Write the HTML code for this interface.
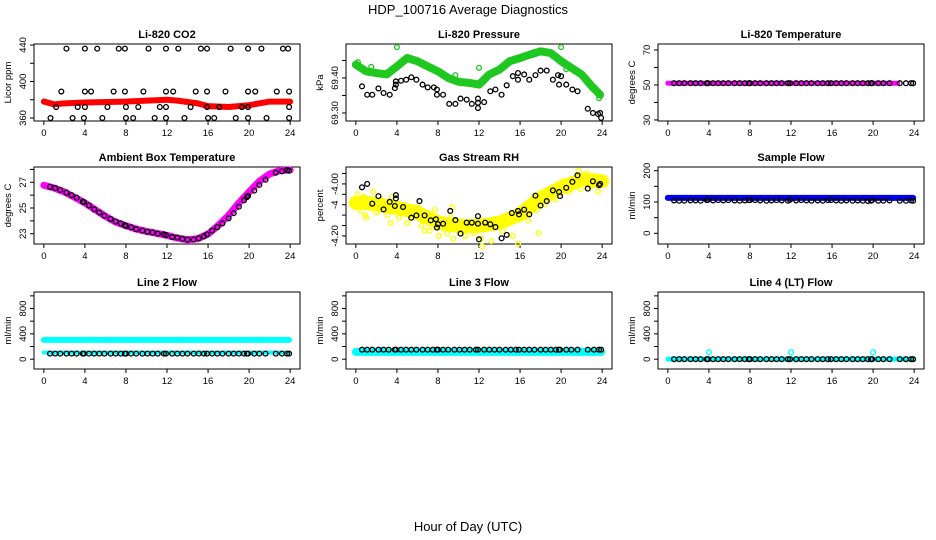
<!DOCTYPE html>
<html><head><meta charset="utf-8"><style>
body{margin:0;background:#fff;}
svg{display:block;font-family:"Liberation Sans",Arial,sans-serif;}
</style></head><body>
<svg id="chart" width="936" height="540" viewBox="0 0 936 540">
<text x="468" y="14" text-anchor="middle" font-size="13">HDP_100716  Average Diagnostics</text>
<text x="468" y="531" text-anchor="middle" font-size="13">Hour of Day (UTC)</text>
</svg>
<script>
// ---- shared data ----
const xTicks = [0,4,8,12,16,20,24];
const blackHours = [0.6,1.1,1.6,2.2,2.7,3.2,3.8,3.9,4.4,4.9,5.4,5.9,6.5,7.0,7.5,7.9,8.0,8.5,9.0,9.6,10.1,10.6,11.1,11.7,11.9,12.5,13.0,13.5,14.0,14.6,15.1,15.6,15.9,16.4,16.9,17.4,18.0,18.5,19.0,19.5,19.8,19.9,20.5,21.0,21.6,22.6,23.2,23.7,23.9];

// CO2
const co2BandHours = [0,1,2,4,8,12,13,15,16,18,19,20,22,24];
const co2BandValues = [378,375,376,377,378,380,379,376,373,372,373,374,378,378];
const co2Hours = [0.65,1.2,1.7,2.2,2.8,3.3,4.0,4.0,3.9,4.0,4.6,5.2,5.7,6.2,6.8,7.3,7.9,7.9,8.0,8.0,8.7,9.2,9.7,10.2,10.8,11.3,11.9,11.9,11.9,11.9,12.6,13.1,13.7,14.3,14.8,15.3,15.9,15.9,15.9,16.0,16.6,17.1,17.7,18.2,18.7,19.3,19.9,19.9,19.9,19.9,20.6,21.2,21.7,22.7,23.3,23.8,23.9,23.9,23.9];
const co2Values = [360,372,389,436,360,372,389,436,360,372,389,436,360,372,389,436,436,389,372,360,360,372,389,436,360,372,372,389,436,360,389,436,360,372,389,436,436,389,372,360,360,372,389,436,360,372,372,389,436,360,389,436,360,389,436,436,389,372,360];
const co2Ticks = [360,380,400,420,440];
const co2Labels = ["360","","400","","440"];

// Pressure
const presBandHours = [0,1,2,3,4,5,6,7,8,9,10,11,12,13,14,15,16,17,18,19,20,21,22,23,23.8];
const presBandValues = [69.438,69.419,69.414,69.41,69.433,69.457,69.448,69.433,69.419,69.40,69.389,69.386,69.381,69.41,69.424,69.448,69.457,69.467,69.476,69.471,69.448,69.429,69.41,69.376,69.352];
const presGreenHours = [4.0,20.0,12.0,1.5,9.7,19.9,20.5,23.7,0.2];
const presGreenValues = [69.488,69.488,69.429,69.432,69.408,69.449,69.425,69.342,69.445];
const presHours = [0.6,1.1,1.6,2.2,2.7,3.3,3.8,3.9,3.9,4.4,4.9,5.4,5.9,6.5,7.0,7.6,7.9,7.9,8.5,9.1,9.7,10.2,10.8,11.3,11.9,11.9,11.9,12.5,13.1,13.6,14.2,14.7,15.3,15.8,15.8,16.4,16.9,17.5,18.0,18.6,19.2,19.7,19.8,20.0,20.5,21.1,21.6,22.6,23.1,23.6,23.8,23.9];
const presValues = [69.376,69.352,69.352,69.370,69.357,69.352,69.371,69.381,69.390,69.392,69.395,69.402,69.395,69.381,69.373,69.373,69.367,69.352,69.352,69.326,69.326,69.341,69.338,69.326,69.341,69.329,69.314,69.331,69.362,69.367,69.352,69.379,69.405,69.414,69.395,69.410,69.395,69.408,69.421,69.421,69.395,69.408,69.381,69.405,69.381,69.367,69.362,69.312,69.30,69.297,69.30,69.286];
const presTicks = [69.30,69.35,69.40,69.45];
const presLabels = ["69.30","","69.40",""];

// Li-820 temperature
const tempBandHours = [0,22.4];
const tempBandValues = [51,51];
const tempBlack = [51,51,51,51,51,51,51,51,51,51,51,51,51,51,51,51,51,51,51,51,51,51,51,51,51,51,51,51,51,51,51,51,51,51,51,51,51,51,51,51,51,51,51,51,51,51,51,51,51];
const tempTicks = [30,40,50,60,70];
const tempLabels = ["30","","50","","70"];

// Ambient box temperature
const ambBandHours = [0,1,2,3,4,5,6,7,8,9,10,11,12,13,14,15,16,17,18,19,20,21,22,23,24];
const ambBandValues = [26.77,26.56,26.25,25.83,25.39,24.87,24.35,23.91,23.62,23.36,23.18,23.03,22.87,22.66,22.53,22.61,22.97,23.65,24.43,25.39,26.25,27.08,27.65,27.91,27.96];
const ambBlack = [26.65,26.55,26.4,26.2,26.0,25.8,25.5,25.45,25.2,24.9,24.65,24.4,24.15,23.95,23.8,23.65,23.6,23.5,23.35,23.25,23.15,23.1,23.0,22.95,22.9,22.75,22.7,22.6,22.55,22.55,22.65,22.8,22.95,23.25,23.5,23.8,24.2,24.6,25.1,25.6,25.85,25.95,26.35,26.8,27.2,27.75,27.85,27.95,27.9];
const ambTicks = [23,24,25,26,27,28];
const ambLabels = ["23","","25","","27",""];

// Gas stream RH
const rhBandHours = [0,1,2,4,6,8,10,12,14,16,18,20,22,24];
const rhBandValues = [-4.073,-4.073,-4.079,-4.092,-4.111,-4.149,-4.162,-4.162,-4.149,-4.117,-4.054,-4.015,-3.983,-3.99];
const rhYellowHours = [0.2,0.4,0.8,1.0,1.3,1.7,2.0,2.4,2.9,3.1,3.5,4.2,4.7,5.0,5.6,6.0,6.4,6.9,7.2,7.7,8.1,8.4,8.9,9.3,9.5,9.8,10.3,10.7,11.0,11.5,12.2,12.8,13.2,13.8,14.3,14.9,15.3,15.5,16.2,16.8,17.2,17.6,18.1,18.4,18.9,19.4,19.7,20.2,20.8,21.3,21.9,22.2,22.5,22.9,23.3,23.6,0.9,3.4,6.7,9.4,12.3,15.8,17.8,21.7];
const rhYellowValues = [-4.04,-4.10,-4.05,-4.13,-4.09,-4.03,-4.11,-4.06,-4.10,-4.12,-4.05,-4.13,-4.08,-4.15,-4.12,-4.09,-4.16,-4.12,-4.18,-4.10,-4.20,-4.15,-4.19,-4.13,-4.21,-4.16,-4.18,-4.20,-4.15,-4.19,-4.21,-4.17,-4.22,-4.15,-4.18,-4.14,-4.20,-4.12,-4.10,-4.14,-4.06,-4.10,-4.05,-4.08,-4.03,-4.06,-4.00,-3.99,-4.03,-3.98,-4.02,-3.97,-3.96,-4.01,-3.97,-4.03,-4.12,-4.15,-4.18,-4.09,-4.24,-4.23,-4.19,-3.95];
const rhHours = [0.6,1.1,1.6,2.2,2.7,3.3,3.8,3.9,3.9,4.6,5.4,5.9,6.2,6.7,7.3,7.8,7.9,8.0,8.5,9.2,9.7,10.2,10.8,11.3,11.9,11.9,12.0,12.6,13.1,13.6,14.2,14.7,15.2,15.8,15.9,16.4,16.9,17.5,18.0,18.6,19.2,19.8,19.9,20.5,21.1,21.6,22.6,23.1,23.7,23.8];
const rhValues = [-4.013,-4.0,-4.076,-4.047,-4.098,-4.069,-4.085,-4.056,-4.043,-4.089,-4.13,-4.121,-4.066,-4.121,-4.14,-4.136,-4.168,-4.155,-4.153,-4.104,-4.139,-4.191,-4.149,-4.149,-4.124,-4.153,-4.213,-4.149,-4.155,-4.166,-4.209,-4.196,-4.112,-4.104,-4.117,-4.099,-4.117,-4.045,-4.083,-4.066,-4.025,-4.031,-4.047,-4.015,-3.992,-3.967,-4.018,-3.99,-4.005,-4.0];
const rhTicks = [-3.96,-4.00,-4.04,-4.08,-4.12,-4.16,-4.20];
const rhLabels = ["","-4.00","","-4","","","-4.20"];

// Sample flow
const sfBandHours = [0,23.9];
const sfBandValues = [113,113];
const sfBlack = [105,104,104,105,105,104,106,107,105,106,105,106,105,104,105,106,106,106,105,104,105,106,105,104,107,105,106,105,104,105,104,106,106,105,104,105,104,105,104,103,104,106,104,104,105,104,104,105,104];
const sfTicks = [0,50,100,150,200];
const sfLabels = ["0","","100","","200"];

// Line flows
const flowTicks = [0,200,400,600,800,1000];
const flowLabels = ["0","","400","","800",""];
const l2BandHours = [0,23.9];
const l2BandHigh = [305,305];
const l2BandLow = [105,105];
const l2Black = [88,88,88,88,88,88,88,88,88,88,88,88,88,88,88,88,88,88,88,88,88,88,88,88,88,88,88,88,88,88,88,88,88,88,88,88,88,88,88,88,88,88,88,88,88,88,88,88,88];
const l3BandHours = [0,23.9];
const l3BandValues = [115,115];
const l3Black = [150,150,150,150,150,150,150,150,150,150,150,150,150,150,150,150,150,150,150,150,150,150,150,150,150,150,150,150,150,150,150,150,150,150,150,150,150,150,150,150,150,150,150,150,150,150,150,150,150];
const l4BandHours = [0,23.9];
const l4BandValues = [0,0];
const l4CyanHours = [4.0,12.0,20.0];
const l4CyanValues = [110,110,110];
const l4Black = [0,0,0,0,0,0,0,0,0,0,0,0,0,0,0,0,0,0,0,0,0,0,0,0,0,0,0,0,0,0,0,0,0,0,0,0,0,0,0,0,0,0,0,0,0,0,0,0,0];

const NS = "http://www.w3.org/2000/svg";
const svg = document.getElementById("chart");
function mk(tag, attrs, parent){ const e=document.createElementNS(NS,tag); for(const k in attrs) e.setAttribute(k,attrs[k]); (parent||svg).appendChild(e); return e; }

const colLeft = [34,346,658];
const rowTop = [44,167,292];
const W = 266, H = 77;

function panel(col,row,title,ylab,ymin,ymax,ticks,labels,key){
  const L=colLeft[col], T=rowTop[row];
  const g = mk("g",{});
  
  
  const xs = h => L + (h+0.96)/25.92*W;
  const ys = v => T + H - (v-ymin)/(ymax-ymin)*H;
  const box = mk("rect",{x:L,y:T,width:W,height:H,fill:"none",stroke:"#000","stroke-width":1},g);
  
  
  const t = mk("text",{x:L+W/2,y:T-6,"text-anchor":"middle","font-size":11,"font-weight":"bold"},g);
  t.textContent = title;
  
  
  xTicks.forEach(h=>{
    const x=xs(h);
    mk("line",{x1:x,x2:x,y1:T+H,y2:T+H+4,stroke:"#000"},g);
    const tl = mk("text",{x:x,y:T+H+15,"text-anchor":"middle","font-size":9.5},g);
    tl.textContent = h;
    
    
  });
  ticks.forEach((v,i)=>{
    const y=ys(v);
    mk("line",{x1:L-4,x2:L,y1:y,y2:y,stroke:"#000"},g);
    if(labels[i]){
      const tl = mk("text",{x:0,y:0,"text-anchor":"middle","font-size":9.5,transform:`translate(${L-8},${y}) rotate(-90)`},g);
      tl.textContent = labels[i];
      
      
    }
  });
  const yl = mk("text",{x:0,y:0,"text-anchor":"middle","font-size":9.5,transform:`translate(${L-23},${T+H/2}) rotate(-90)`},g);
  yl.textContent = ylab;
  
  
  const clip = mk("g",{},g);
  return {g:clip,xs,ys};
}
function band(p,hours,vals,color,w,name){
  const pts = hours.map((h,i)=>p.xs(h)+","+p.ys(vals[i])).join(" ");
  const e = mk("polyline",{points:pts,fill:"none",stroke:color,"stroke-width":w,"stroke-linecap":"round","stroke-linejoin":"round"},p.g);
  
  
}
function pts(p,hours,vals,color,name){
  hours.forEach((h,i)=>{
    const c = mk("circle",{cx:p.xs(h),cy:p.ys(vals[i]),r:2.4,fill:"none",stroke:color,"stroke-width":1.3},p.g);
    
    
  });
}

let p;
p = panel(0,0,"Li-820 CO2","Licor ppm",356.7,441.1,co2Ticks,co2Labels,"co2");
band(p,co2BandHours,co2BandValues,"#f00",6,"co2-red-band");
pts(p,co2Hours,co2Values,"#000","co2-point");

p = panel(1,0,"Li-820 Pressure","kPa",69.277,69.497,presTicks,presLabels,"pressure");
band(p,presBandHours,presBandValues,"#1ec81e",8,"pressure-green-band");
pts(p,presGreenHours,presGreenValues,"#1ec81e","pressure-green-point");
pts(p,presHours,presValues,"#000","pressure-point");

p = panel(2,0,"Li-820 Temperature","degrees C",29.4,73.4,tempTicks,tempLabels,"li820-temp");
band(p,tempBandHours,tempBandValues,"#f0f",5,"li820-temp-band");
pts(p,blackHours,tempBlack,"#000","li820-temp-point");

p = panel(0,1,"Ambient Box Temperature","degrees C",22.2,28.19,ambTicks,ambLabels,"ambient");
band(p,ambBandHours,ambBandValues,"#f0f",7,"ambient-band");
pts(p,blackHours,ambBlack,"#000","ambient-point");

p = panel(1,1,"Gas Stream RH","percent",-4.231,-3.935,rhTicks,rhLabels,"rh");
band(p,rhBandHours,rhBandValues,"#ff0",14,"rh-yellow-band");
pts(p,rhYellowHours,rhYellowValues,"#ff0","rh-yellow-point");
pts(p,rhHours,rhValues,"#000","rh-point");

p = panel(2,1,"Sample Flow","ml/min",-34.2,211.8,sfTicks,sfLabels,"sample-flow");
band(p,sfBandHours,sfBandValues,"#00f",6,"sample-flow-band");
pts(p,blackHours,sfBlack,"#000","sample-flow-point");

p = panel(0,2,"Line 2 Flow","ml/min",-155,1061,flowTicks,flowLabels,"line2");
band(p,l2BandHours,l2BandHigh,"#0ff",6,"line2-high-band");
band(p,l2BandHours,l2BandLow,"#0ff",4,"line2-low-band");
pts(p,blackHours,l2Black,"#000","line2-point");

p = panel(1,2,"Line 3 Flow","ml/min",-155,1061,flowTicks,flowLabels,"line3");
band(p,l3BandHours,l3BandValues,"#0ff",8,"line3-band");
pts(p,blackHours,l3Black,"#000","line3-point");

p = panel(2,2,"Line 4 (LT) Flow","ml/min",-155,1061,flowTicks,flowLabels,"line4");
band(p,l4BandHours,l4BandValues,"#0ff",5,"line4-band");
pts(p,l4CyanHours,l4CyanValues,"#0ff","line4-cyan-point");
pts(p,blackHours,l4Black,"#000","line4-point");
</script>
</body></html>
